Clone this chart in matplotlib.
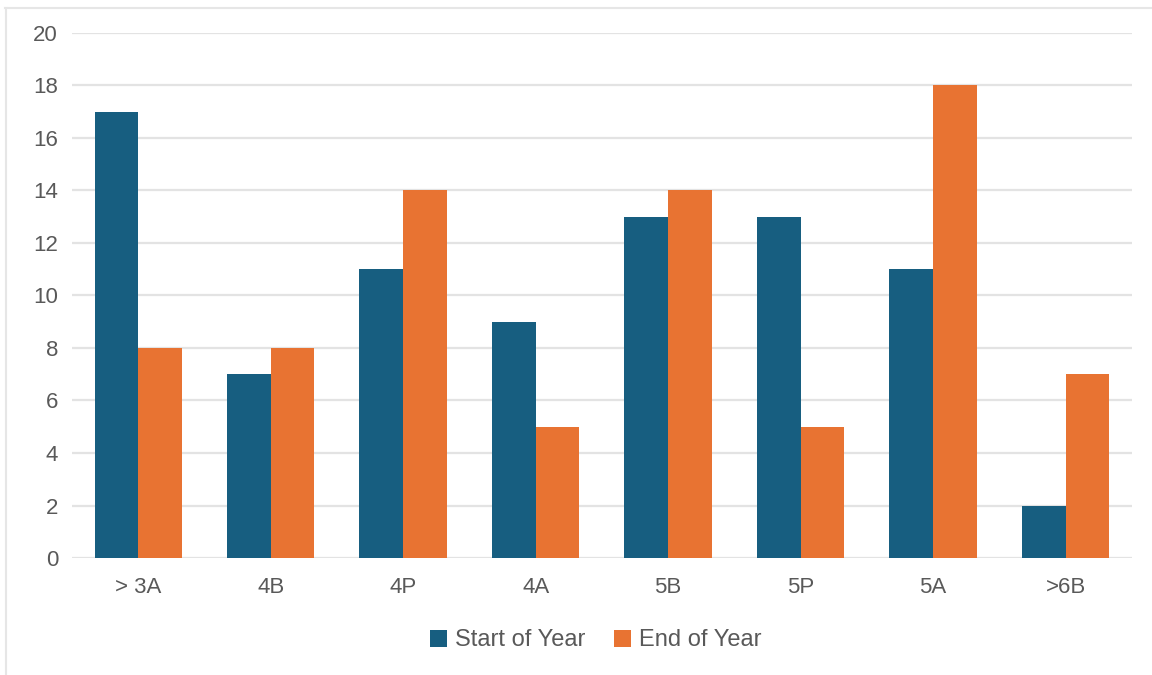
import numpy as np
import matplotlib.pyplot as plt
from matplotlib.lines import Line2D

# reading levels, counts at start and end of year
levels = ['> 3A', '4B', '4P', '4A', '5B', '5P', '5A', '>6B']
start_of_year = [17, 7, 11, 9, 13, 13, 11, 2]
end_of_year = [8, 8, 14, 5, 14, 5, 18, 7]

blue = '#175e80'
orange = '#e87332'
txt = '#595959'

plt.rcParams['font.family'] = ['Liberation Sans', 'DejaVu Sans']

fig = plt.figure(figsize=(11.52, 6.75), dpi=100)
ax = fig.add_axes([0.0625, 0.1733, 0.92, 0.778])

x = np.arange(len(levels))
w = 0.33
ax.bar(x - w / 2, start_of_year, w, color=blue, label='Start of Year', zorder=3)
ax.bar(x + w / 2, end_of_year, w, color=orange, label='End of Year', zorder=3)

ax.set_xlim(-0.5, len(levels) - 0.5)
ax.set_ylim(0, 20)
ax.set_yticks(range(0, 21, 2))
ax.set_xticks(x)
ax.set_xticklabels(levels)
ax.yaxis.grid(True, color='#e3e3e3', linewidth=1.6, zorder=0)
ax.tick_params(axis='both', length=0, labelsize=16, colors=txt)
ax.tick_params(axis='y', pad=10)
ax.tick_params(axis='x', pad=14)
for s in ax.spines.values():
    s.set_visible(False)

ax.legend(loc='center', bbox_to_anchor=(0.494, -0.157), ncol=2, frameon=False,
          fontsize=17, labelcolor=txt, handlelength=0.72, handleheight=0.72,
          handletextpad=0.35, columnspacing=1.2)

# top and left edge of the chart frame
fig.add_artist(Line2D([5 / 1152, 1], [1 - 7.5 / 675] * 2, transform=fig.transFigure,
                      color='#e6e6e6', linewidth=1.5))
fig.add_artist(Line2D([6 / 1152] * 2, [0, 1 - 7.5 / 675], transform=fig.transFigure,
                      color='#e6e6e6', linewidth=1.5))

fig.savefig('out.png', dpi=100)
